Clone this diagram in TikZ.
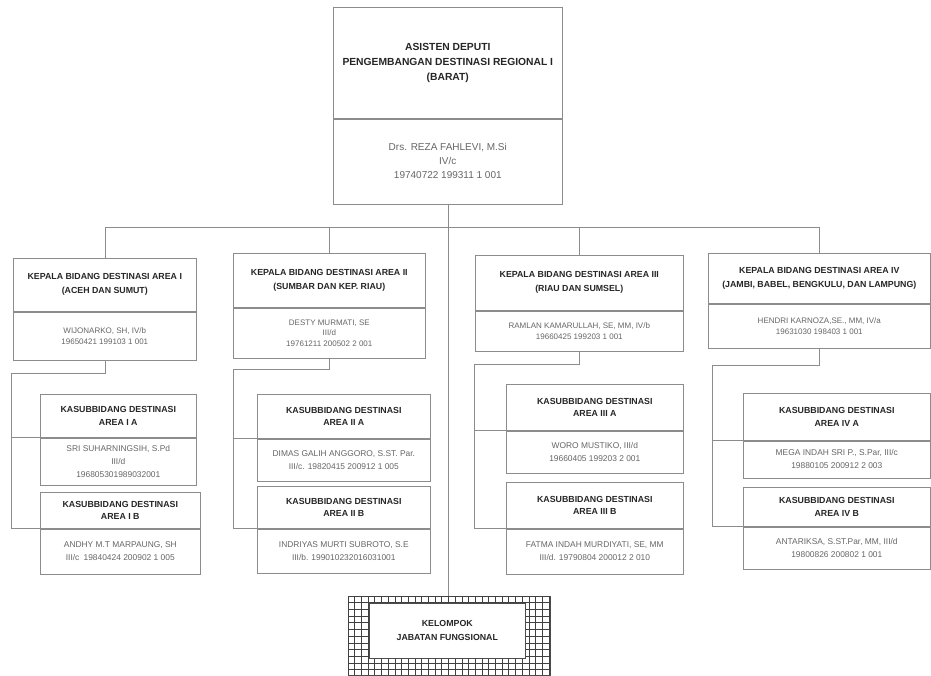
\documentclass[tikz,border=0pt]{standalone}
\usepackage{fontspec}
\setmainfont{Liberation Sans}
\usetikzlibrary{positioning}

\tikzset{
  ttl/.style={draw=black!45, fill=white, line width=0.6pt, align=center, inner sep=1pt, text=black!85, font=\bfseries\fontsize{8.8}{14}\selectfont},
  nm/.style={draw=black!45, fill=white, line width=0.6pt, align=center, inner sep=1pt, text=black!60, font=\fontsize{8}{10.5}\selectfont},
  subttl/.style={ttl, font=\bfseries\fontsize{8.8}{12.7}\selectfont},
  subnm/.style={nm, font=\fontsize{8.4}{13}\selectfont},
  link/.style={draw=black!45, line width=0.6pt},
}

\begin{document}
\begin{tikzpicture}[x=1pt, y=-1pt]
  \useasboundingbox (0,0) rectangle (931,675);

  % Asisten deputi
  \node[ttl, minimum width=229pt, minimum height=111pt, anchor=north west, font=\bfseries\fontsize{10.3}{15}\selectfont] (tt) at (333,7) {ASISTEN DEPUTI\\PENGEMBANGAN DESTINASI REGIONAL I\\(BARAT)};
  \node[nm, minimum width=229pt, minimum height=85pt, below=0pt of tt, font=\fontsize{10}{14}\selectfont] (tn) {Drs. REZA FAHLEVI, M.Si\\IV/c\\19740722 199311 1 001};

  % Kepala bidang
  \node[ttl, minimum width=183pt, minimum height=53pt, anchor=north west] (h1t) at (13,258) {KEPALA BIDANG DESTINASI AREA I\\(ACEH DAN SUMUT)};
  \node[nm, minimum width=183pt, minimum height=48pt, below=0pt of h1t] (h1n) {WIJONARKO, SH, IV/b\\19650421 199103 1 001};
  \node[ttl, minimum width=192pt, minimum height=54pt, anchor=north west] (h2t) at (233,253) {KEPALA BIDANG DESTINASI AREA II\\(SUMBAR DAN KEP. RIAU)};
  \node[nm, minimum width=192pt, minimum height=50pt, below=0pt of h2t] (h2n) {DESTY MURMATI, SE\\III/d\\19761211 200502 2 001};
  \node[ttl, minimum width=208pt, minimum height=55pt, anchor=north west] (h3t) at (475,255) {KEPALA BIDANG DESTINASI AREA III\\(RIAU DAN SUMSEL)};
  \node[nm, minimum width=208pt, minimum height=40pt, below=0pt of h3t] (h3n) {RAMLAN KAMARULLAH, SE, MM, IV/b\\19660425 199203 1 001};
  \node[ttl, minimum width=222pt, minimum height=50pt, anchor=north west] (h4t) at (708,253) {KEPALA BIDANG DESTINASI AREA IV\\(JAMBI, BABEL, BENGKULU, DAN LAMPUNG)};
  \node[nm, minimum width=222pt, minimum height=44pt, below=0pt of h4t] (h4n) {HENDRI KARNOZA,SE., MM, IV/a\\19631030 198403 1 001};

  % Kasubbidang
  \node[subttl, minimum width=156pt, minimum height=43pt, anchor=north west] (s1at) at (40,394) {KASUBBIDANG DESTINASI\\AREA I A};
  \node[subnm, minimum width=156pt, minimum height=47pt, below=0pt of s1at] (s1an) {SRI SUHARNINGSIH, S.Pd\\III/d\\196805301989032001};
  \node[subttl, minimum width=160pt, minimum height=36pt, anchor=north west] (s1bt) at (40,492) {KASUBBIDANG DESTINASI\\AREA I B};
  \node[subnm, minimum width=160pt, minimum height=45pt, below=0pt of s1bt] (s1bn) {ANDHY M.T MARPAUNG, SH\\III/c\enspace 19840424 200902 1 005};

  \node[subttl, minimum width=173pt, minimum height=44pt, anchor=north west] (s2at) at (257,394) {KASUBBIDANG DESTINASI\\AREA II A};
  \node[subnm, minimum width=173pt, minimum height=42pt, below=0pt of s2at] (s2an) {DIMAS GALIH ANGGORO, S.ST. Par.\\III/c. 19820415 200912 1 005};
  \node[subttl, minimum width=173pt, minimum height=42pt, anchor=north west] (s2bt) at (257,486) {KASUBBIDANG DESTINASI\\AREA II B};
  \node[subnm, minimum width=173pt, minimum height=44pt, below=0pt of s2bt] (s2bn) {INDRIYAS MURTI SUBROTO, S.E\\III/b. 199010232016031001};

  \node[subttl, minimum width=177pt, minimum height=46pt, anchor=north west] (s3at) at (506,384) {KASUBBIDANG DESTINASI\\AREA III A};
  \node[subnm, minimum width=177pt, minimum height=42pt, below=0pt of s3at] (s3an) {WORO MUSTIKO, III/d\\19660405 199203 2 001};
  \node[subttl, minimum width=177pt, minimum height=46pt, anchor=north west] (s3bt) at (506,482) {KASUBBIDANG DESTINASI\\AREA III B};
  \node[subnm, minimum width=177pt, minimum height=45pt, below=0pt of s3bt] (s3bn) {FATMA INDAH MURDIYATI, SE, MM\\III/d. 19790804 200012 2 010};

  \node[subttl, minimum width=187pt, minimum height=47pt, anchor=north west] (s4at) at (743,393) {KASUBBIDANG DESTINASI\\AREA IV A};
  \node[subnm, minimum width=187pt, minimum height=37pt, below=0pt of s4at] (s4an) {MEGA INDAH SRI P., S.Par, III/c\\19880105 200912 2 003};
  \node[subttl, minimum width=187pt, minimum height=39pt, anchor=north west] (s4bt) at (743,487) {KASUBBIDANG DESTINASI\\AREA IV B};
  \node[subnm, minimum width=187pt, minimum height=42pt, below=0pt of s4bt] (s4bn) {ANTARIKSA, S.ST.Par, MM, III/d\\19800826 200802 1 001};

  % Kelompok jabatan fungsional
  \node[draw=black!70, fill=white, line width=0.8pt, minimum width=202pt, minimum height=79pt, inner sep=0pt, anchor=north west] (fo) at (348,596) {};
  \begin{scope}[shift={(fo.north west)}]
    \draw[black!75, line width=0.8pt] (0,0) grid[step=6.7pt] (202,79);
  \end{scope}
  \node[ttl, draw=black!70, minimum width=156pt, minimum height=55pt, anchor=north west] (fi) at (369,603) {KELOMPOK\\JABATAN FUNGSIONAL};

  % Garis ke kepala bidang
  \coordinate (bus) at (448,227);
  \draw[link] (tn.south) -- (tn.south |- fo.north);
  \draw[link] (bus) -| (h1t.north);
  \draw[link] (bus) -| (h2t.north);
  \draw[link] (bus) -| (h3t.north);
  \draw[link] (bus) -| (h4t.north);

  % Garis ke kasubbidang
  \coordinate (k1) at (11,373);
  \draw[link] (h1n.south) |- (k1) -- (k1 |- s1bt.south west) -- (s1bt.south west);
  \draw[link] (k1 |- s1at.south west) -- (s1at.south west);
  \coordinate (k2) at (233,369);
  \draw[link] (h2n.south) |- (k2) -- (k2 |- s2bt.south west) -- (s2bt.south west);
  \draw[link] (k2 |- s2at.south west) -- (s2at.south west);
  \coordinate (k3) at (474,364);
  \draw[link] (h3n.south) |- (k3) -- (k3 |- s3bt.south west) -- (s3bt.south west);
  \draw[link] (k3 |- s3at.south west) -- (s3at.south west);
  \coordinate (k4) at (712,365);
  \draw[link] (h4n.south) |- (k4) -- (k4 |- s4bt.south west) -- (s4bt.south west);
  \draw[link] (k4 |- s4at.south west) -- (s4at.south west);
\end{tikzpicture}
\end{document}
